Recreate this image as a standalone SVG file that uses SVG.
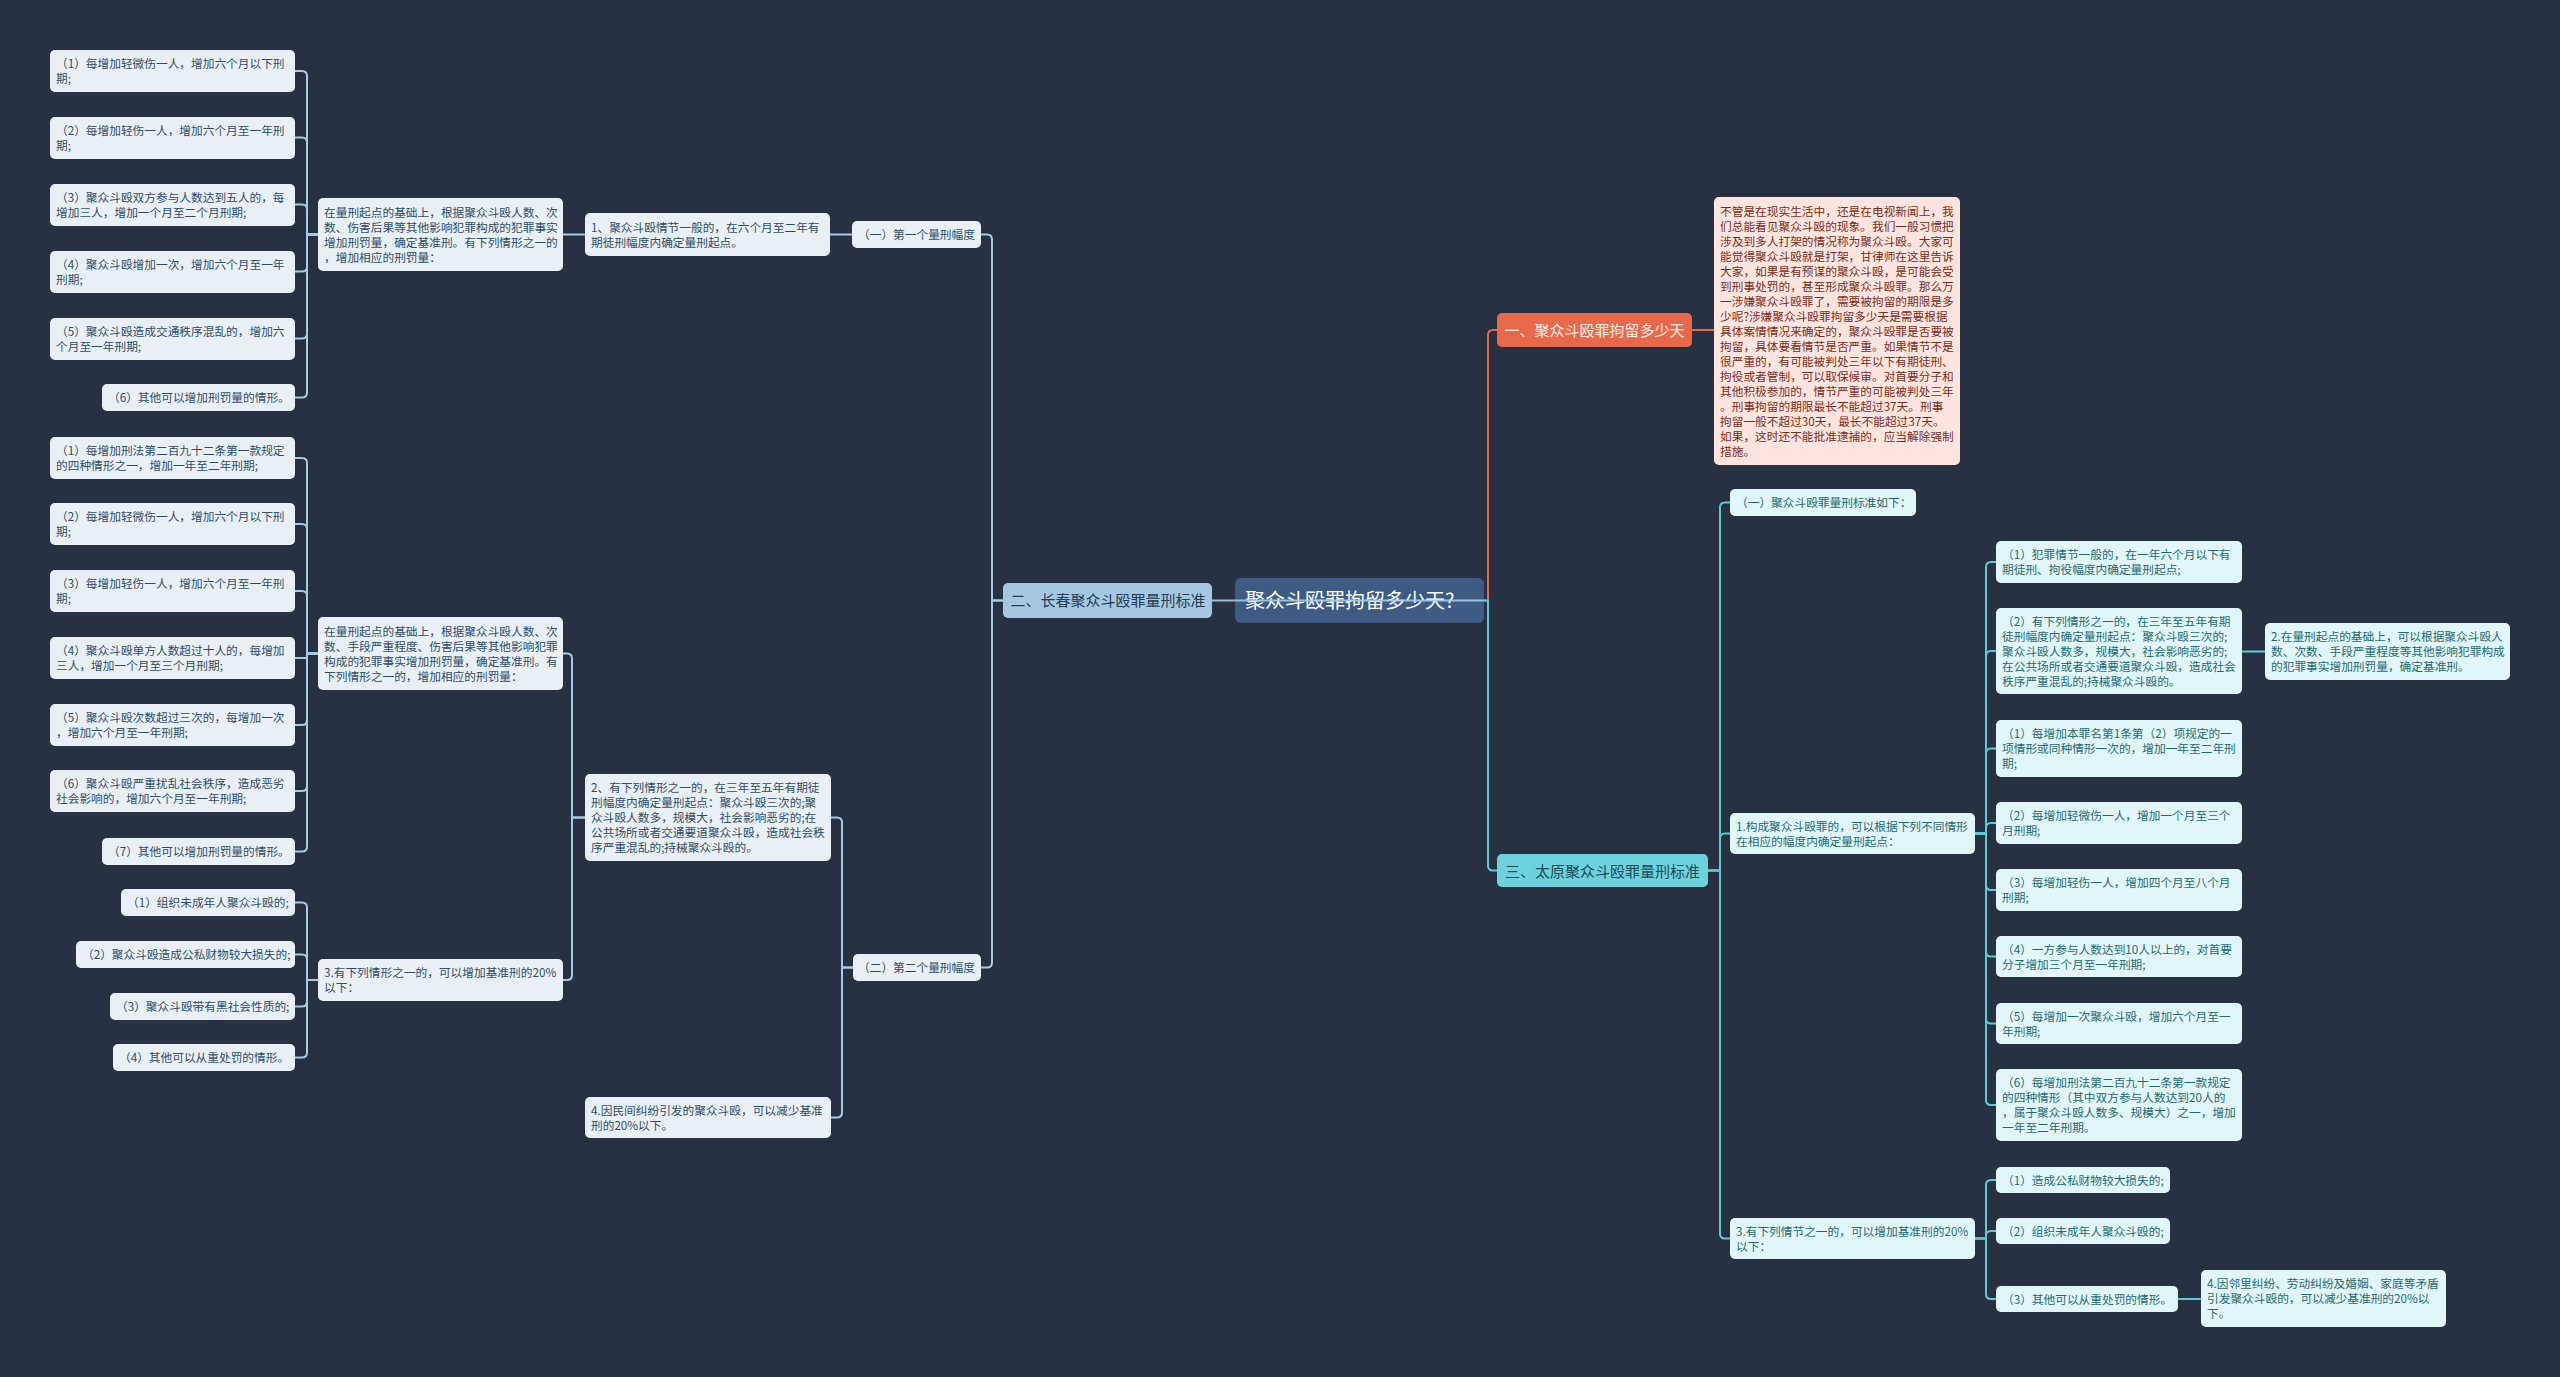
<svg xmlns="http://www.w3.org/2000/svg" width="2560" height="1377" viewBox="0 0 2560 1377">
<style>
text{font-family:"Noto Sans CJK SC","Noto Sans",sans-serif;font-size:11.7px}
.ln rect{fill:#e8f0f6}
.ln text{fill:#2f4d68}
.rn rect{fill:#e1f6f8}
.rn text{fill:#1f6a73}
.cl{fill:none;stroke:#a6cbe6;stroke-width:2}
.cr{fill:none;stroke:#5ccad6;stroke-width:2}
.co{fill:none;stroke:#e8694a;stroke-width:2}
</style>
<rect width="2560" height="1377" fill="#283141"/>
<g id="nodes">
<g id="L1-1" class="ln"><rect x="50" y="50" width="245" height="42" rx="5"/><text x="56" y="68.3">（1）每增加轻微伤一人，增加六个月以下刑</text><text x="56" y="83.3">期;</text></g>
<g id="L1-2" class="ln"><rect x="50" y="117" width="245" height="42" rx="5"/><text x="56" y="135.3">（2）每增加轻伤一人，增加六个月至一年刑</text><text x="56" y="150.3">期;</text></g>
<g id="L1-3" class="ln"><rect x="50" y="184" width="245" height="42" rx="5"/><text x="56" y="202.3">（3）聚众斗殴双方参与人数达到五人的，每</text><text x="56" y="217.3">增加三人，增加一个月至二个月刑期;</text></g>
<g id="L1-4" class="ln"><rect x="50" y="251" width="245" height="42" rx="5"/><text x="56" y="269.3">（4）聚众斗殴增加一次，增加六个月至一年</text><text x="56" y="284.3">刑期;</text></g>
<g id="L1-5" class="ln"><rect x="50" y="318" width="245" height="42" rx="5"/><text x="56" y="336.3">（5）聚众斗殴造成交通秩序混乱的，增加六</text><text x="56" y="351.3">个月至一年刑期;</text></g>
<g id="L1-6" class="ln"><rect x="102" y="384" width="193" height="27" rx="5"/><text x="108" y="402.3">（6）其他可以增加刑罚量的情形。</text></g>
<g id="M1" class="ln"><rect x="318" y="198" width="245" height="73" rx="5"/><text x="324" y="216.8">在量刑起点的基础上，根据聚众斗殴人数、次</text><text x="324" y="231.8">数、伤害后果等其他影响犯罪构成的犯罪事实</text><text x="324" y="246.8">增加刑罚量，确定基准刑。有下列情形之一的</text><text x="324" y="261.8">，增加相应的刑罚量：</text></g>
<g id="L2-1" class="ln"><rect x="50" y="437" width="245" height="42" rx="5"/><text x="56" y="455.3">（1）每增加刑法第二百九十二条第一款规定</text><text x="56" y="470.3">的四种情形之一，增加一年至二年刑期;</text></g>
<g id="L2-2" class="ln"><rect x="50" y="503" width="245" height="42" rx="5"/><text x="56" y="521.3">（2）每增加轻微伤一人，增加六个月以下刑</text><text x="56" y="536.3">期;</text></g>
<g id="L2-3" class="ln"><rect x="50" y="570" width="245" height="42" rx="5"/><text x="56" y="588.3">（3）每增加轻伤一人，增加六个月至一年刑</text><text x="56" y="603.3">期;</text></g>
<g id="L2-4" class="ln"><rect x="50" y="637" width="245" height="42" rx="5"/><text x="56" y="655.3">（4）聚众斗殴单方人数超过十人的，每增加</text><text x="56" y="670.3">三人，增加一个月至三个月刑期;</text></g>
<g id="L2-5" class="ln"><rect x="50" y="704" width="245" height="42" rx="5"/><text x="56" y="722.3">（5）聚众斗殴次数超过三次的，每增加一次</text><text x="56" y="737.3">，增加六个月至一年刑期;</text></g>
<g id="L2-6" class="ln"><rect x="50" y="770" width="245" height="42" rx="5"/><text x="56" y="788.3">（6）聚众斗殴严重扰乱社会秩序，造成恶劣</text><text x="56" y="803.3">社会影响的，增加六个月至一年刑期;</text></g>
<g id="L2-7" class="ln"><rect x="102" y="838" width="193" height="27" rx="5"/><text x="108" y="856.3">（7）其他可以增加刑罚量的情形。</text></g>
<g id="M2" class="ln"><rect x="318" y="617" width="245" height="73" rx="5"/><text x="324" y="635.8">在量刑起点的基础上，根据聚众斗殴人数、次</text><text x="324" y="650.8">数、手段严重程度、伤害后果等其他影响犯罪</text><text x="324" y="665.8">构成的犯罪事实增加刑罚量，确定基准刑。有</text><text x="324" y="680.8">下列情形之一的，增加相应的刑罚量：</text></g>
<g id="L3-1" class="ln"><rect x="121" y="889" width="174" height="27" rx="5"/><text x="127" y="907.3">（1）组织未成年人聚众斗殴的;</text></g>
<g id="L3-2" class="ln"><rect x="76" y="941" width="219" height="27" rx="5"/><text x="82" y="959.3">（2）聚众斗殴造成公私财物较大损失的;</text></g>
<g id="L3-3" class="ln"><rect x="110" y="993" width="185" height="27" rx="5"/><text x="116" y="1011.3">（3）聚众斗殴带有黑社会性质的;</text></g>
<g id="L3-4" class="ln"><rect x="113" y="1044" width="182" height="27" rx="5"/><text x="119" y="1062.3">（4）其他可以从重处罚的情形。</text></g>
<g id="M3" class="ln"><rect x="318" y="959" width="245" height="42" rx="5"/><text x="324" y="977.3">3.有下列情形之一的，可以增加基准刑的20%</text><text x="324" y="992.3">以下：</text></g>
<g id="N1" class="ln"><rect x="585" y="213" width="245" height="43" rx="5"/><text x="591" y="231.8">1、聚众斗殴情节一般的，在六个月至二年有</text><text x="591" y="246.8">期徒刑幅度内确定量刑起点。</text></g>
<g id="N2" class="ln"><rect x="585" y="774" width="246" height="87" rx="5"/><text x="591" y="792.3">2、有下列情形之一的，在三年至五年有期徒</text><text x="591" y="807.3">刑幅度内确定量刑起点：聚众斗殴三次的;聚</text><text x="591" y="822.3">众斗殴人数多，规模大，社会影响恶劣的;在</text><text x="591" y="837.3">公共场所或者交通要道聚众斗殴，造成社会秩</text><text x="591" y="852.3">序严重混乱的;持械聚众斗殴的。</text></g>
<g id="N4" class="ln"><rect x="585" y="1097" width="246" height="41" rx="5"/><text x="591" y="1114.8">4.因民间纠纷引发的聚众斗殴，可以减少基准</text><text x="591" y="1129.8">刑的20%以下。</text></g>
<g id="S1" class="ln"><rect x="852" y="221" width="129" height="27" rx="5"/><text x="858" y="239.3">（一）第一个量刑幅度</text></g>
<g id="S2" class="ln"><rect x="853" y="954" width="128" height="27" rx="5"/><text x="858" y="972.3">（二）第二个量刑幅度</text></g>
<g id="B2"><rect x="1003" y="583" width="209" height="35" rx="5" fill="#a5c8e2"/><text x="1108" y="606" text-anchor="middle" fill="#253d55" style="font-size:15px">二、长春聚众斗殴罪量刑标准</text></g>
<g id="root"><rect x="1235" y="578" width="249" height="45" rx="6" fill="#3e5c83"/><text x="1245" y="608" fill="#ffffff" style="font-size:20px">聚众斗殴罪拘留多少天?</text></g>
<g id="B1"><rect x="1497" y="313" width="195" height="34" rx="5" fill="#e8694a"/><text x="1594.5" y="336" text-anchor="middle" fill="#fdeee9" style="font-size:15px">一、聚众斗殴罪拘留多少天</text></g>
<g id="T1"><rect x="1714" y="197" width="246" height="268" rx="5" fill="#fde4de"/>
<g fill="#7a2e20">
<text x="1720" y="215.8">不管是在现实生活中，还是在电视新闻上，我</text>
<text x="1720" y="230.8">们总能看见聚众斗殴的现象。我们一般习惯把</text>
<text x="1720" y="245.8">涉及到多人打架的情况称为聚众斗殴。大家可</text>
<text x="1720" y="260.8">能觉得聚众斗殴就是打架，甘律师在这里告诉</text>
<text x="1720" y="275.8">大家，如果是有预谋的聚众斗殴，是可能会受</text>
<text x="1720" y="290.8">到刑事处罚的，甚至形成聚众斗殴罪。那么万</text>
<text x="1720" y="305.8">一涉嫌聚众斗殴罪了，需要被拘留的期限是多</text>
<text x="1720" y="320.8">少呢?涉嫌聚众斗殴罪拘留多少天是需要根据</text>
<text x="1720" y="335.8">具体案情情况来确定的，聚众斗殴罪是否要被</text>
<text x="1720" y="350.8">拘留，具体要看情节是否严重。如果情节不是</text>
<text x="1720" y="365.8">很严重的，有可能被判处三年以下有期徒刑、</text>
<text x="1720" y="380.8">拘役或者管制，可以取保候审。对首要分子和</text>
<text x="1720" y="395.8">其他积极参加的，情节严重的可能被判处三年</text>
<text x="1720" y="410.8">。刑事拘留的期限最长不能超过37天。刑事</text>
<text x="1720" y="425.8">拘留一般不超过30天，最长不能超过37天。</text>
<text x="1720" y="440.8">如果，这时还不能批准逮捕的，应当解除强制</text>
<text x="1720" y="455.8">措施。</text>
</g></g>
<g id="B3"><rect x="1497" y="854" width="211" height="33" rx="5" fill="#6ed2dd"/><text x="1602.5" y="876.5" text-anchor="middle" fill="#1d4c57" style="font-size:15px">三、太原聚众斗殴罪量刑标准</text></g>
<g id="R0" class="rn"><rect x="1730" y="489" width="186" height="27" rx="5"/><text x="1736" y="507.3">（一）聚众斗殴罪量刑标准如下：</text></g>
<g id="R1" class="rn"><rect x="1730" y="813" width="245" height="41" rx="5"/><text x="1736" y="830.8">1.构成聚众斗殴罪的，可以根据下列不同情形</text><text x="1736" y="845.8">在相应的幅度内确定量刑起点：</text></g>
<g id="R1-1" class="rn"><rect x="1996" y="541" width="246" height="42" rx="5"/><text x="2002" y="559.3">（1）犯罪情节一般的，在一年六个月以下有</text><text x="2002" y="574.3">期徒刑、拘役幅度内确定量刑起点;</text></g>
<g id="R1-2" class="rn"><rect x="1996" y="608" width="246" height="86" rx="5"/><text x="2002" y="625.8">（2）有下列情形之一的，在三年至五年有期</text><text x="2002" y="640.8">徒刑幅度内确定量刑起点：聚众斗殴三次的;</text><text x="2002" y="655.8">聚众斗殴人数多，规模大，社会影响恶劣的;</text><text x="2002" y="670.8">在公共场所或者交通要道聚众斗殴，造成社会</text><text x="2002" y="685.8">秩序严重混乱的;持械聚众斗殴的。</text></g>
<g id="R1-3" class="rn"><rect x="1996" y="720" width="246" height="57" rx="5"/><text x="2002" y="738.3">（1）每增加本罪名第1条第（2）项规定的一</text><text x="2002" y="753.3">项情形或同种情形一次的，增加一年至二年刑</text><text x="2002" y="768.3">期;</text></g>
<g id="R1-4" class="rn"><rect x="1996" y="802" width="246" height="42" rx="5"/><text x="2002" y="820.3">（2）每增加轻微伤一人，增加一个月至三个</text><text x="2002" y="835.3">月刑期;</text></g>
<g id="R1-5" class="rn"><rect x="1996" y="869" width="246" height="42" rx="5"/><text x="2002" y="887.3">（3）每增加轻伤一人，增加四个月至八个月</text><text x="2002" y="902.3">刑期;</text></g>
<g id="R1-6" class="rn"><rect x="1996" y="936" width="246" height="41" rx="5"/><text x="2002" y="953.8">（4）一方参与人数达到10人以上的，对首要</text><text x="2002" y="968.8">分子增加三个月至一年刑期;</text></g>
<g id="R1-7" class="rn"><rect x="1996" y="1003" width="246" height="41" rx="5"/><text x="2002" y="1020.8">（5）每增加一次聚众斗殴，增加六个月至一</text><text x="2002" y="1035.8">年刑期;</text></g>
<g id="R1-8" class="rn"><rect x="1996" y="1069" width="246" height="72" rx="5"/><text x="2002" y="1087.3">（6）每增加刑法第二百九十二条第一款规定</text><text x="2002" y="1102.3">的四种情形（其中双方参与人数达到20人的</text><text x="2002" y="1117.3">，属于聚众斗殴人数多、规模大）之一，增加</text><text x="2002" y="1132.3">一年至二年刑期。</text></g>
<g id="FR" class="rn"><rect x="2265" y="623" width="245" height="57" rx="5"/><text x="2271" y="641.3">2.在量刑起点的基础上，可以根据聚众斗殴人</text><text x="2271" y="656.3">数、次数、手段严重程度等其他影响犯罪构成</text><text x="2271" y="671.3">的犯罪事实增加刑罚量，确定基准刑。</text></g>
<g id="R3" class="rn"><rect x="1730" y="1218" width="245" height="41" rx="5"/><text x="1736" y="1235.8">3.有下列情节之一的，可以增加基准刑的20%</text><text x="1736" y="1250.8">以下：</text></g>
<g id="R3-1" class="rn"><rect x="1996" y="1167" width="174" height="26" rx="5"/><text x="2002" y="1184.8">（1）造成公私财物较大损失的;</text></g>
<g id="R3-2" class="rn"><rect x="1996" y="1218" width="174" height="26" rx="5"/><text x="2002" y="1235.8">（2）组织未成年人聚众斗殴的;</text></g>
<g id="R3-3" class="rn"><rect x="1996" y="1286" width="182" height="26" rx="5"/><text x="2002" y="1303.8">（3）其他可以从重处罚的情形。</text></g>
<g id="R4" class="rn"><rect x="2201" y="1270" width="245" height="57" rx="5"/><text x="2207" y="1288.3">4.因邻里纠纷、劳动纠纷及婚姻、家庭等矛盾</text><text x="2207" y="1303.3">引发聚众斗殴的，可以减少基准刑的20%以</text><text x="2207" y="1318.3">下。</text></g>
</g>
<g id="connectors">
<path class="cl" d="M318 234.5H307V76Q307 71 302 71H295"/>
<path class="cl" d="M318 234.5H307V142.5Q307 137.5 302 137.5H295"/>
<path class="cl" d="M318 234.5H307V209.5Q307 204.5 302 204.5H295"/>
<path class="cl" d="M318 234.5H307V266.5Q307 271.5 302 271.5H295"/>
<path class="cl" d="M318 234.5H307V333.5Q307 338.5 302 338.5H295"/>
<path class="cl" d="M318 234.5H307V392.5Q307 397.5 302 397.5H295"/>
<path class="cl" d="M318 653.5H307V463Q307 458 302 458H295"/>
<path class="cl" d="M318 653.5H307V529Q307 524 302 524H295"/>
<path class="cl" d="M318 653.5H307V596Q307 591 302 591H295"/>
<path class="cl" d="M318 653.5H307V658H295"/>
<path class="cl" d="M318 653.5H307V720Q307 725 302 725H295"/>
<path class="cl" d="M318 653.5H307V786Q307 791 302 791H295"/>
<path class="cl" d="M318 653.5H307V846.5Q307 851.5 302 851.5H295"/>
<path class="cl" d="M318 980H307V907.5Q307 902.5 302 902.5H295"/>
<path class="cl" d="M318 980H307V959.5Q307 954.5 302 954.5H295"/>
<path class="cl" d="M318 980H307V1001.5Q307 1006.5 302 1006.5H295"/>
<path class="cl" d="M318 980H307V1052.5Q307 1057.5 302 1057.5H295"/>
<path class="cl" d="M585 817.5H572V658.5Q572 653.5 567 653.5H563"/>
<path class="cl" d="M585 817.5H572V975Q572 980 567 980H563"/>
<path class="cl" d="M853 967.5H842V822.5Q842 817.5 837 817.5H831"/>
<path class="cl" d="M853 967.5H842V1112.5Q842 1117.5 837 1117.5H831"/>
<path class="cl" d="M1003 600.5H992V239.5Q992 234.5 987 234.5H981"/>
<path class="cl" d="M1003 600.5H992V962.5Q992 967.5 987 967.5H981"/>
<path class="cl" d="M852 234.5H830"/>
<path class="cl" d="M585 234.5H563"/>
<path class="cl" d="M1212 600.5H1484" stroke-opacity="0.9"/>
<path class="co" d="M1484 600.5H1488V335Q1488 330 1493 330H1497"/>
<path class="co" d="M1692 330H1714"/>
<path class="cr" d="M1484 600.5H1488V865.5Q1488 870.5 1493 870.5H1497"/>
<path class="cr" d="M1708 870.5H1720V507.5Q1720 502.5 1725 502.5H1730"/>
<path class="cr" d="M1708 870.5H1720V838.5Q1720 833.5 1725 833.5H1730"/>
<path class="cr" d="M1708 870.5H1720V1233.5Q1720 1238.5 1725 1238.5H1730"/>
<path class="cr" d="M1975 833.5H1986V567Q1986 562 1991 562H1996"/>
<path class="cr" d="M1975 833.5H1986V656Q1986 651 1991 651H1996"/>
<path class="cr" d="M1975 833.5H1986V753.5Q1986 748.5 1991 748.5H1996"/>
<path class="cr" d="M1975 833.5H1986V828Q1986 823 1991 823H1996"/>
<path class="cr" d="M1975 833.5H1986V885Q1986 890 1991 890H1996"/>
<path class="cr" d="M1975 833.5H1986V951.5Q1986 956.5 1991 956.5H1996"/>
<path class="cr" d="M1975 833.5H1986V1018.5Q1986 1023.5 1991 1023.5H1996"/>
<path class="cr" d="M1975 833.5H1986V1100Q1986 1105 1991 1105H1996"/>
<path class="cr" d="M2242 651.5H2265"/>
<path class="cr" d="M1975 1238.5H1986V1185Q1986 1180 1991 1180H1996"/>
<path class="cr" d="M1975 1238.5H1986V1236Q1986 1231 1991 1231H1996"/>
<path class="cr" d="M1975 1238.5H1986V1294Q1986 1299 1991 1299H1996"/>
<path class="cr" d="M2178 1299H2201" stroke-width="3"/>
</g>
</svg>
